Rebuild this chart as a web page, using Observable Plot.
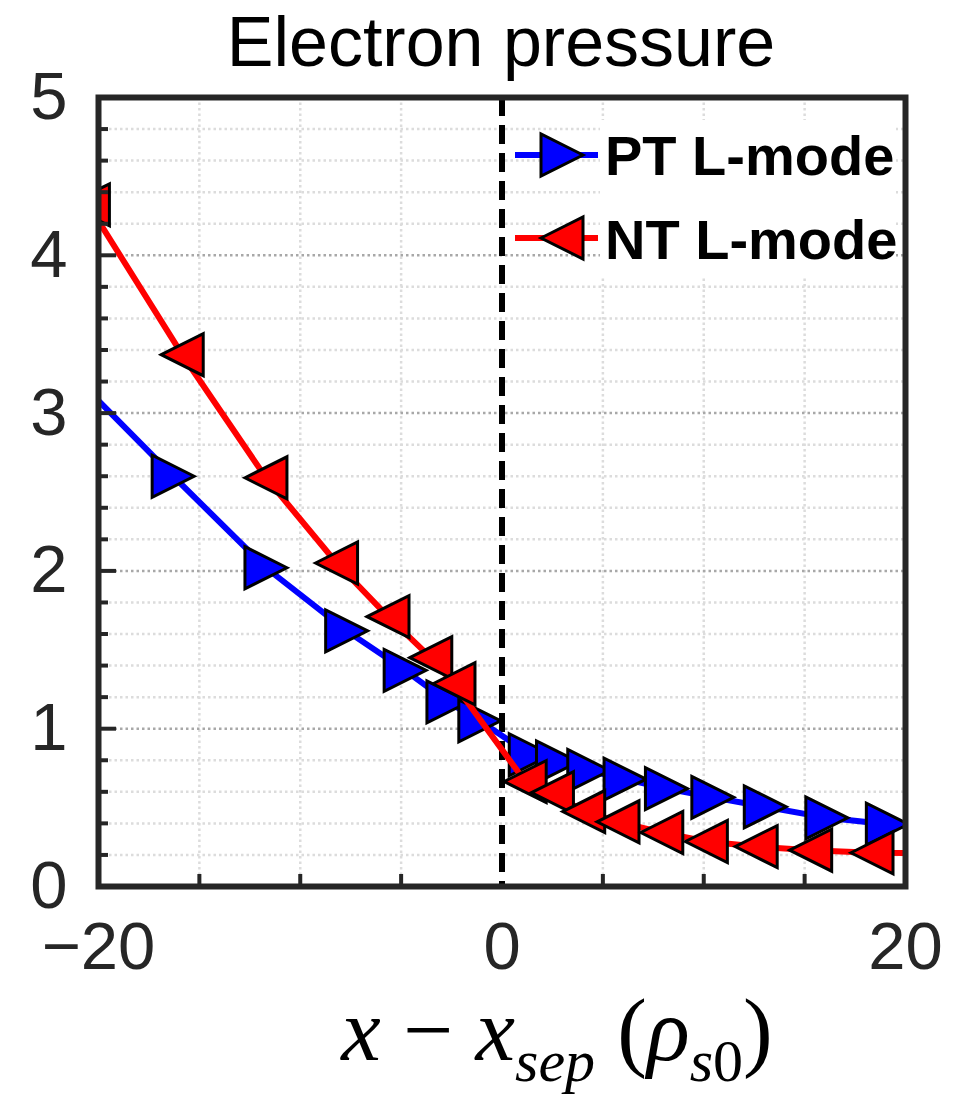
<!DOCTYPE html>
<html><head><meta charset="utf-8">
<script src="https://cdn.jsdelivr.net/npm/d3@7"></script>
<script src="https://cdn.jsdelivr.net/npm/@observablehq/plot@0.6"></script>
<style>body{margin:0;background:#fff;}</style>
</head><body><div id="chart"></div>
<script>
const chartTitle = "Electron pressure";
const seriesNames = ["PT L-mode", "NT L-mode"];
const ptX = [-21.8, -16.3, -11.7, -7.7, -4.8, -2.68, -1.1, 1.4, 2.75, 4.3, 6.1, 8.15, 10.45, 13.05, 16.1, 19.1, 22.3];
const ptY = [3.31, 2.60, 2.02, 1.62, 1.37, 1.17, 1.05, 0.835, 0.79, 0.735, 0.68, 0.62, 0.565, 0.505, 0.435, 0.395, 0.35];
const ntX = [-20.5, -15.85, -11.7, -8.2, -5.65, -3.53, -2.38, 1.15, 2.5, 4.05, 5.75, 7.92, 10.13, 12.6, 15.3, 18.34, 21.7];
const ntY = [4.32, 3.37, 2.59, 2.05, 1.71, 1.45, 1.285, 0.665, 0.595, 0.475, 0.41, 0.342, 0.285, 0.253, 0.23, 0.214, 0.21];
const xTicks = [-20, 0, 20];
const xGrid = [-15, -10, -5, 5, 10, 15];
const yTicks = [0, 1, 2, 3, 4, 5];
const yMinor = [0.2,0.4,0.6,0.8,1.2,1.4,1.6,1.8,2.2,2.4,2.6,2.8,3.2,3.4,3.6,3.8,4.2,4.4,4.6,4.8];

const pt = ptX.map((x, i) => ({x, y: ptY[i]}));
const nt = ntX.map((x, i) => ({x, y: ntY[i]}));

const W = 965, H = 1101, mL = 98, mR = 60, mT = 97, mB = 215;
const frameW = W - mL - mR, frameH = H - mT - mB;
const BLUE = "#0000ff", RED = "#ff0000", AX = "#262626";
const sans = "'Liberation Sans', Arial, Helvetica, sans-serif";
const R = 21;

function tri(dir) {
  return {draw(ctx, size) {
    const r = Math.sqrt(size / Math.PI);
    if (dir > 0) { ctx.moveTo(r, 0); ctx.lineTo(-r, -r); ctx.lineTo(-r, r); }
    else { ctx.moveTo(-r, 0); ctx.lineTo(r, -r); ctx.lineTo(r, r); }
    ctx.closePath();
  }};
}
const grid = {strokeWidth: 2.5, strokeDasharray: "2.5,3"};
const fmt = d => d < 0 ? "\u2212" + (-d) : String(d);

const plot = Plot.plot({
  width: W, height: H, marginLeft: mL, marginRight: mR, marginTop: mT, marginBottom: mB,
  x: {domain: [-20, 20], label: null},
  y: {domain: [0, 5], label: null},
  style: {fontFamily: sans, fontSize: "67px", color: AX, background: "white", overflow: "visible"},
  marks: [
    Plot.ruleY(yMinor, {stroke: "#dcdcdc", ...grid}),
    Plot.ruleX(xGrid, {stroke: "#dcdcdc", ...grid}),
    Plot.ruleY(yTicks.slice(1, 5), {stroke: "#a8a8a8", ...grid}),
    Plot.ruleX([0], {stroke: "#000", strokeWidth: 6, strokeDasharray: "19,9"}),
    Plot.line(pt, {x: "x", y: "y", stroke: BLUE, strokeWidth: 6, clip: true}),
    Plot.dot(pt, {x: "x", y: "y", symbol: tri(1), r: R, fill: BLUE, stroke: "#000", strokeWidth: 3, clip: true}),
    Plot.line(nt, {x: "x", y: "y", stroke: RED, strokeWidth: 6, clip: true}),
    Plot.dot(nt, {x: "x", y: "y", symbol: tri(-1), r: R, fill: RED, stroke: "#000", strokeWidth: 3, clip: true}),
    Plot.tickY(yMinor, {stroke: AX, strokeWidth: 4, insetRight: frameW - 10}),
    Plot.tickY(yTicks, {stroke: AX, strokeWidth: 4, insetRight: frameW - 18}),
    Plot.tickX(xGrid, {stroke: AX, strokeWidth: 4, insetTop: frameH - 12}),
    Plot.frame({stroke: AX, strokeWidth: 6}),
    Plot.axisY(yTicks, {tickSize: 0, tickPadding: 31, tickFormat: fmt, label: null}),
    Plot.axisX(xTicks, {tickSize: 0, tickPadding: 35, tickFormat: fmt, label: null})
  ]
});
document.getElementById("chart").appendChild(plot);

const svg = d3.select(plot);
// title
svg.append("text").attr("x", 501).attr("y", 66).attr("text-anchor", "middle")
  .attr("font-family", sans).attr("font-size", 70).attr("fill", "#000").text(chartTitle);

// legend
const leg = svg.append("g").attr("text-anchor", "start");
leg.append("rect").attr("x", 600).attr("y", 120).attr("width", 296).attr("height", 158).attr("fill", "#fff");
const triPath = (dir) => d3.symbol().type(tri(dir)).size(Math.PI * R * R)();
[[BLUE, 1, 155, 175], [RED, -1, 238, 259]].forEach(([c, dir, yy, base], i) => {
  leg.append("line").attr("x1", 515).attr("x2", 598).attr("y1", yy).attr("y2", yy).attr("stroke", c).attr("stroke-width", 6);
  leg.append("path").attr("d", triPath(dir)).attr("transform", `translate(562,${yy})`)
    .attr("fill", c).attr("stroke", "#000").attr("stroke-width", 3);
  leg.append("text").attr("x", 605).attr("y", base).attr("text-anchor", "start").attr("font-family", sans).attr("font-weight", "bold")
    .attr("font-size", 56).attr("fill", "#000").text(seriesNames[i]);
});

// x label
const xl = svg.append("text").attr("x", 557).attr("y", 1060).attr("text-anchor", "middle")
  .attr("font-family", "'Liberation Serif', 'DejaVu Serif', 'Times New Roman', serif").attr("font-size", 89).attr("fill", "#000");
xl.append("tspan").attr("font-style", "italic").text("x");
xl.append("tspan").text(" \u2212 ");
xl.append("tspan").attr("font-style", "italic").text("x");
xl.append("tspan").attr("font-style", "italic").attr("font-size", 60).attr("dy", 21).text("sep");
xl.append("tspan").attr("dy", -21).text(" (");
xl.append("tspan").attr("font-style", "italic").text("\u03C1");
xl.append("tspan").attr("font-style", "italic").attr("font-size", 60).attr("dy", 21).text("s");
xl.append("tspan").attr("font-size", 60).text("0");
xl.append("tspan").attr("dy", -21).text(")");
</script>
</body></html>
